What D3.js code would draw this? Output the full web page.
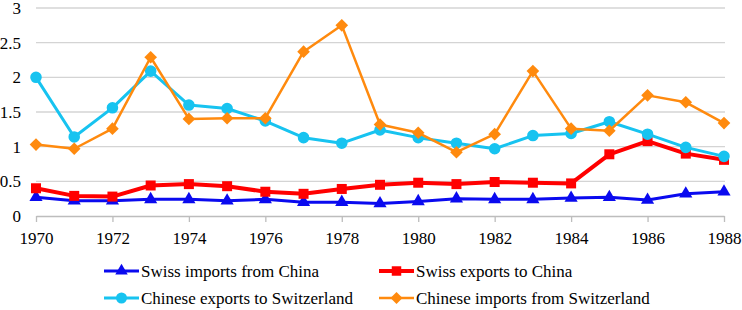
<!DOCTYPE html>
<html>
<head>
<meta charset="utf-8">
<script src="https://cdn.jsdelivr.net/npm/d3@7"></script>
</head>
<body style="margin:0">
<svg id="chart" width="742" height="310"></svg>
<script>
const years = [1970,1971,1972,1973,1974,1975,1976,1977,1978,1979,1980,1981,1982,1983,1984,1985,1986,1987,1988];
const swissImports = [0.27,0.22,0.22,0.24,0.24,0.22,0.24,0.20,0.20,0.18,0.21,0.25,0.24,0.24,0.26,0.27,0.23,0.32,0.35];
const swissExports = [0.40,0.29,0.28,0.44,0.46,0.43,0.35,0.32,0.39,0.45,0.48,0.46,0.49,0.48,0.47,0.89,1.08,0.90,0.81];
const chineseExports = [2.00,1.14,1.56,2.09,1.60,1.55,1.37,1.13,1.05,1.24,1.13,1.05,0.97,1.16,1.19,1.36,1.18,0.99,0.86];
const chineseImports = [1.03,0.97,1.26,2.29,1.40,1.41,1.41,2.37,2.75,1.32,1.20,0.92,1.18,2.09,1.26,1.23,1.74,1.64,1.34];
const yTicks = [0,0.5,1,1.5,2,2.5,3];
const xTicks = [1970,1972,1974,1976,1978,1980,1982,1984,1986,1988];
const seriesNames = ["Swiss imports from China","Swiss exports to China","Chinese exports to Switzerland","Chinese imports from Switzerland"];

const series = [
  {name: seriesNames[0], values: swissImports, color: "#0a0aef", width: 3, symbol: d3.symbolTriangle, size: 75, rot: 0},
  {name: seriesNames[1], values: swissExports, color: "#ff0000", width: 4, symbol: d3.symbolSquare, size: 100, rot: 0},
  {name: seriesNames[2], values: chineseExports, color: "#17c3f0", width: 3, symbol: d3.symbolCircle, size: 105, rot: 0},
  {name: seriesNames[3], values: chineseImports, color: "#ff8a0e", width: 2.5, symbol: d3.symbolSquare, size: 80, rot: 45}
];

const svg = d3.select("#chart");
const x = d3.scaleLinear().domain([1970,1988]).range([36,724]);
const y = d3.scaleLinear().domain([0,3]).range([216,8]);

const FONT_STACK = "'Times New Roman', 'Liberation Serif', Tinos, FreeSerif";
function serif(sel){ return sel.style("font-family", () => FONT_STACK); }

// gridlines
svg.append("g").selectAll("line").data(yTicks.filter(d=>d>0)).join("line")
  .attr("x1",36).attr("x2",725)
  .attr("y1",d=>y(d)).attr("y2",d=>y(d))
  .attr("stroke","#d4d4d4").attr("stroke-width",1.3);

// y labels
const yl = svg.append("g").selectAll("text").data(yTicks).join("text")
  .attr("x",21).attr("y",d=>y(d)+6)
  .attr("text-anchor","end").style("font-size","17px")
  .text(d=>d3.format("~g")(d));
serif(yl);

// x axis
const xAxis = d3.axisBottom(x).tickValues(xTicks).tickFormat(d3.format("d")).tickSize(6).tickSizeOuter(0);
const gx = svg.append("g").attr("transform","translate(0,216)").call(xAxis);
gx.attr("font-family", null).attr("font-size", null);
gx.select(".domain").attr("stroke","#bdbdbd").attr("stroke-width",1.3);
gx.selectAll(".tick line").attr("stroke","#bdbdbd").attr("stroke-width",1.3);
const xt = gx.selectAll(".tick text").style("font-size","17px").attr("fill","#000")
  .attr("dy",null).attr("y",28);
serif(xt);

// lines
const line = d3.line().x((d,i)=>x(years[i])).y(d=>y(d));
series.forEach(s=>{
  const g = svg.append("g");
  g.append("path").datum(s.values).attr("d",line)
    .attr("fill","none").attr("stroke",s.color).attr("stroke-width",s.width).attr("stroke-linejoin","round");
  g.selectAll("path.m").data(s.values).join("path").attr("class","m")
    .attr("transform",(d,i)=>`translate(${x(years[i])},${y(d)}) rotate(${s.rot})`)
    .attr("d",d3.symbol().type(s.symbol).size(s.size))
    .attr("fill",s.color);
});

// legend
series.forEach((s,i)=>{
  const lx = i%2===0 ? 104 : 379;
  const ly = i<2 ? 271 : 298;
  const g = svg.append("g").attr("transform",`translate(${lx},${ly})`);
  g.append("line").attr("x1",0).attr("x2",35).attr("y1",0).attr("y2",0)
    .attr("stroke",s.color).attr("stroke-width",s.width);
  g.append("path").attr("transform",`translate(17.5,0) rotate(${s.rot})`)
    .attr("d",d3.symbol().type(s.symbol).size(s.size*0.9)).attr("fill",s.color);
  serif(g.append("text").attr("x",37).attr("y",6)
    .style("font-size","17px").text(s.name));
});
</script>
</body>
</html>
